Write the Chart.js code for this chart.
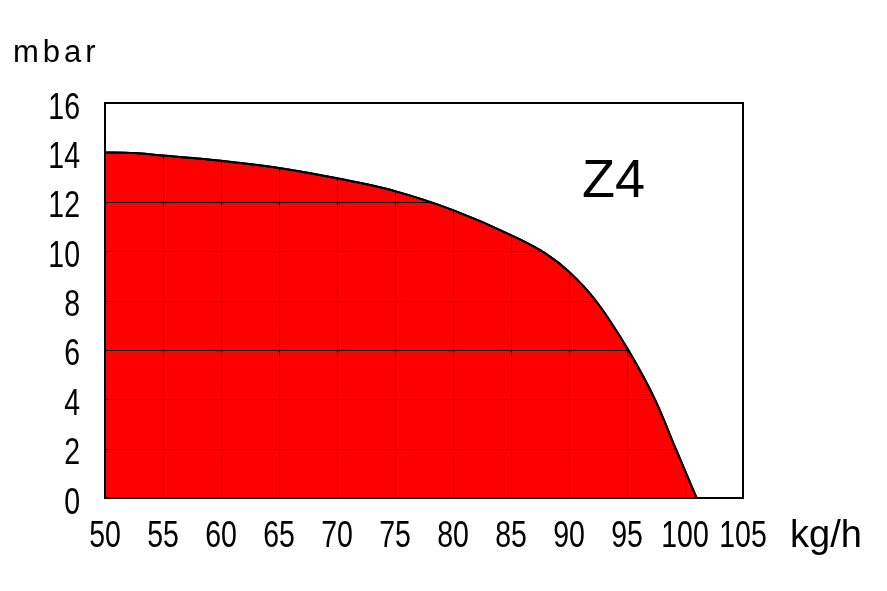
<!DOCTYPE html>
<html>
<head>
<meta charset="utf-8">
<script src="https://cdn.jsdelivr.net/npm/chart.js@4"></script>
<style>
  html, body { margin: 0; padding: 0; background: #fff; }
  #wrap { width: 887px; height: 591px; }
</style>
</head>
<body>
<div id="wrap"><canvas id="c" width="887" height="591"></canvas></div>
<script>
// Data (flow in kg/h vs pressure in mbar)
const flowKgH = [50, 52.5, 55, 60, 65, 70, 75, 80, 85, 88, 90, 92.3, 95.1, 97.4, 99.2, 101];
const pressureMbar = [14.0, 13.97, 13.87, 13.66, 13.37, 12.95, 12.43, 11.66, 10.65, 9.9, 9.17, 8.0, 6.0, 4.0, 2.0, 0];
const xTicks = [50, 55, 60, 65, 70, 75, 80, 85, 90, 95, 100, 105];
const yTicks = [0, 2, 4, 6, 8, 10, 12, 14, 16];
const yUnit = 'mbar';
const xUnit = 'kg/h';
const curveLabel = 'Z4';

const TICK_FONT = "37px 'Liberation Sans', Arial, sans-serif";
const TICK_SQUEEZE = 0.77;

const gridUnderCurve = {
  id: 'gridUnderCurve',
  afterDatasetsDraw(chart) {
    const ctx = chart.ctx;
    const area = chart.chartArea;
    const meta = chart.getDatasetMeta(0);
    const pts = meta.data;
    const xs = chart.scales.x, ys = chart.scales.y;
    const base = ys.getPixelForValue(0);
    ctx.save();
    ctx.beginPath();
    meta.dataset.path(ctx);
    ctx.lineTo(pts[pts.length - 1].x, base);
    ctx.lineTo(pts[0].x, base);
    ctx.closePath();
    ctx.clip();
    ctx.strokeStyle = '#000';
    ctx.lineWidth = 1;
    ctx.beginPath();
    xs.ticks.forEach(t => {
      const px = Math.round(xs.getPixelForValue(t.value)) + 0.5;
      ctx.moveTo(px, area.top); ctx.lineTo(px, area.bottom);
    });
    ys.ticks.forEach(t => {
      const py = Math.round(ys.getPixelForValue(t.value)) + 0.5;
      ctx.moveTo(area.left, py); ctx.lineTo(area.right, py);
    });
    ctx.stroke();
    ctx.restore();
    ctx.save();
    ctx.strokeStyle = '#000';
    ctx.lineWidth = 2;
    ctx.beginPath();
    meta.dataset.path(ctx);
    ctx.stroke();
    ctx.restore();
  },
  afterDraw(chart) {
    const ctx = chart.ctx;
    const a = chart.chartArea;
    const xs = chart.scales.x, ys = chart.scales.y;
    ctx.save();
    ctx.strokeStyle = '#000';
    ctx.lineWidth = 2;
    ctx.strokeRect(a.left, a.top, a.right - a.left, a.bottom - a.top);
    ctx.fillStyle = '#000';
    ctx.font = TICK_FONT;
    ctx.textBaseline = 'alphabetic';
    xs.ticks.forEach(t => {
      const px = xs.getPixelForValue(t.value);
      ctx.save();
      ctx.translate(px, a.bottom + 49);
      ctx.scale(TICK_SQUEEZE, 1);
      ctx.textAlign = 'center';
      ctx.fillText(String(t.value), 0, 0);
      ctx.restore();
    });
    ys.ticks.forEach(t => {
      const py = ys.getPixelForValue(t.value);
      ctx.save();
      ctx.translate(a.left - 25, py + 15.5);
      ctx.scale(TICK_SQUEEZE, 1);
      ctx.textAlign = 'right';
      ctx.fillText(String(t.value), 0, 0);
      ctx.restore();
    });
    ctx.textAlign = 'left';
    ctx.font = "31px 'Liberation Sans', Arial, sans-serif";
    ctx.letterSpacing = '4px';
    ctx.fillText(yUnit, 13, 62);
    ctx.letterSpacing = '0px';
    ctx.font = "38px 'Liberation Sans', Arial, sans-serif";
    ctx.fillText(xUnit, 790, 547);
    ctx.font = "54px 'Liberation Sans', Arial, sans-serif";
    ctx.fillText(curveLabel, 582, 197);
    ctx.restore();
  }
};

new Chart(document.getElementById('c'), {
  type: 'line',
  data: {
    datasets: [{
      data: flowKgH.map((x, i) => ({ x, y: pressureMbar[i] })),
      borderColor: '#000',
      borderWidth: 2,
      backgroundColor: '#ff0000',
      fill: 'origin',
      pointRadius: 0,
      cubicInterpolationMode: 'monotone'
    }]
  },
  options: {
    responsive: false,
    animation: false,
    layout: { padding: { left: 0, right: 144, top: 103, bottom: 0 } },
    plugins: { legend: { display: false }, tooltip: { enabled: false } },
    scales: {
      x: {
        type: 'linear', min: 50, max: 105,
        afterBuildTicks: s => { s.ticks = xTicks.map(v => ({ value: v })); },
        grid: { display: false, drawTicks: false },
        border: { display: false },
        ticks: { display: false },
        afterFit: s => { s.height = 93; }
      },
      y: {
        type: 'linear', min: 0, max: 16,
        afterBuildTicks: s => { s.ticks = yTicks.map(v => ({ value: v })); },
        grid: { display: false, drawTicks: false },
        border: { display: false },
        ticks: { display: false },
        afterFit: s => { s.width = 105; }
      }
    }
  },
  plugins: [gridUnderCurve]
});
</script>
</body>
</html>
